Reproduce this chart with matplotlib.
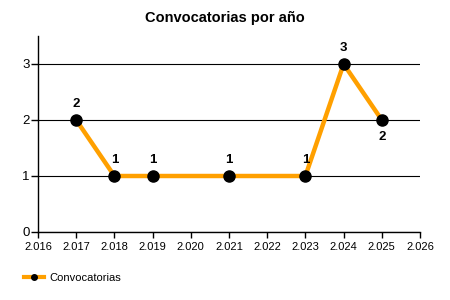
import matplotlib
matplotlib.use("Agg")
import matplotlib.pyplot as plt
from matplotlib.ticker import FuncFormatter

years = [2017, 2018, 2019, 2021, 2023, 2024, 2025]
counts = [2, 1, 1, 1, 1, 3, 2]
label_pos = ["above", "above", "above", "above", "above", "above", "below"]
xticks = list(range(2016, 2027))
yticks = [0, 1, 2, 3]

plt.rcParams['font.family'] = ['Liberation Sans', 'DejaVu Sans']

fig = plt.figure(figsize=(4.5, 3), dpi=100)
ax = fig.add_axes([38/450, 68/300, (420-38)/450, (232-36)/300])

ax.plot(years, counts, color='#FFA000', lw=3.2, marker='o', ms=8,
        mfc='black', mec='black', label='Convocatorias', zorder=3, clip_on=False)
for x, y, p in zip(years, counts, label_pos):
    off = 11.5 if p == "above" else -12.5
    ax.annotate(str(y), (x, y), xytext=(0, off), textcoords='offset points',
                ha='center', va='center', fontsize=9.5, fontweight='bold')

ax.set_xlim(2016, 2026)
ax.set_ylim(0, 3.5)
ax.set_xticks(xticks)
ax.set_yticks(yticks)
ax.xaxis.set_major_formatter(FuncFormatter(lambda v, p: f"{int(v)//1000}.{int(v)%1000:03d}"))
ax.yaxis.grid(True, color='black', lw=0.8)
ax.set_axisbelow(True)
for s in ['top', 'right']:
    ax.spines[s].set_visible(False)
ax.spines['left'].set_linewidth(1)
ax.spines['bottom'].set_linewidth(1)
ax.tick_params(axis='x', labelsize=8, length=4, width=1, pad=3)
ax.tick_params(axis='y', labelsize=9.5, length=5, width=1, pad=1)

fig.text(0.5, 0.94, 'Convocatorias por año', ha='center', va='center',
         fontsize=10.5, fontweight='bold')

h, l = ax.get_legend_handles_labels()
leg = fig.legend(h, l, loc='center left', bbox_to_anchor=(0.03, 0.073), frameon=False,
                 fontsize=8, handlelength=1.8, handletextpad=0.5)
for line in leg.get_lines():
    line.set_markersize(4)
    line.set_linewidth(3)

fig.savefig('out.png', dpi=100)
